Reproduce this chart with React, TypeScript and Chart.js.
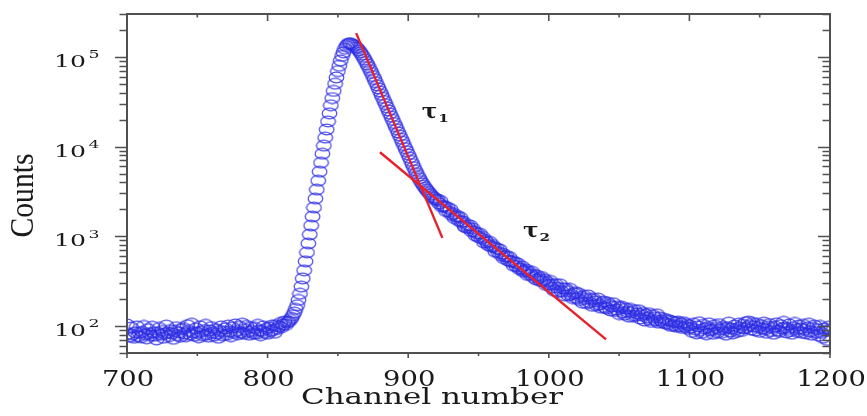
import { useEffect, useRef } from "react";
import { Chart, registerables } from "chart.js";

Chart.register(...registerables);

// ---- axis ranges / ticks ----
const X_MIN = 700;
const X_MAX = 1200;
const Y_MIN = 50;
const Y_MAX = 300000;
const xTickValues = [700, 750, 800, 850, 900, 950, 1000, 1050, 1100, 1150, 1200];
const xTickLabels = ["700", "800", "900", "1000", "1100", "1200"];
const yDecades = [100, 1000, 10000, 100000];
const yDecadeExponents = ["2", "3", "4", "5"];
const xTitle = "Channel number";
const yTitle = "Counts";

// ---- measured counts, one value per channel ----
const baselineStart = 700; // channels 700-814
const baselineCounts = [
  104, 82, 76, 96, 80, 74, 85, 99, 77, 84,
  75, 86, 100, 81, 73, 92, 83, 78, 98, 85,
  78, 71, 84, 95, 80, 88, 74, 82, 101, 84,
  77, 90, 83, 72, 88, 97, 79, 85, 76, 92,
  95, 83, 77, 102, 88, 80, 106, 85, 78, 94,
  84, 75, 99, 86, 79, 90, 103, 81, 76, 89,
  97, 84, 78, 92, 83, 74, 88, 99, 79, 86,
  94, 80, 101, 87, 77, 96, 84, 104, 88, 81,
  98, 85, 106, 82, 92, 100, 86, 80, 97, 88,
  83, 95, 82, 103, 89, 79, 88, 99, 84, 93,
  82, 96, 88, 101, 90, 84, 102, 93, 99, 108,
  97, 104, 112, 103, 110,
];
const riseStart = 815; // channels 815-860
const riseCounts = [
  112, 117, 123, 132, 141, 155, 170, 195, 229, 275,
  339, 417, 525, 661, 832, 1047, 1318, 1660, 2089, 2630,
  3311, 4169, 5248, 6607, 8318, 10233, 12589, 15488, 19055, 23442,
  28840, 34674, 41687, 50119, 58884, 69183, 79433, 91201, 102329, 112202,
  123027, 131826, 138038, 141254, 141254, 138038,
];
const decayStart = 861; // channels 861-1000
const decayCounts = [
  134896, 131826, 127350, 123027, 117490, 112202, 105925, 100000, 93756, 87902,
  82035, 76560, 71121, 66069, 61094, 56494, 52119, 48084, 44361, 40926,
  37757, 34834, 32137, 29648, 27353, 25235, 23281, 21478, 19815, 18281,
  16866, 15560, 14355, 13243, 12218, 11272, 10399, 9594, 8851, 8166,
  7516, 6918, 6383, 5888, 5445, 5047, 4699, 4385, 4111, 3873,
  3664, 3483, 3319, 3170, 3034, 2911, 2799, 2698, 2606, 2523,
  2564, 2322, 2473, 2138, 2173, 2158, 1909, 2079, 1884, 2006,
  1734, 1803, 1595, 1660, 1687, 1493, 1626, 1438, 1462, 1294,
  1256, 1336, 1239, 1319, 1140, 1213, 1125, 1018, 1083, 982,
  1070, 946, 984, 851, 905, 859, 796, 867, 767, 798,
  758, 673, 734, 666, 712, 617, 642, 570, 594, 605,
  537, 586, 520, 530, 470, 513, 465, 496, 431, 439,
  461, 403, 414, 425, 371, 399, 373, 402, 351, 369,
  330, 363, 340, 318, 351, 314, 329, 287, 309, 289,
];
const tailStart = 1001; // channels 1001-1200
const tailCounts = [
  318, 267, 288, 247, 292, 268, 240, 291, 244, 263,
  220, 261, 245, 220, 260, 223, 205, 231, 238, 204,
  232, 195, 211, 182, 216, 200, 180, 219, 184, 200,
  168, 200, 188, 170, 202, 174, 160, 182, 188, 162,
  157, 182, 172, 149, 165, 179, 147, 153, 166, 136,
  159, 164, 142, 134, 156, 144, 127, 155, 143, 129,
  150, 130, 138, 150, 121, 132, 140, 115, 134, 124,
  139, 117, 111, 132, 125, 116, 135, 109, 124, 115,
  110, 120, 107, 117, 105, 115, 100, 112, 102, 110,
  98, 112, 100, 107, 95, 110, 98, 105, 93, 102,
  96, 86, 106, 92, 83, 99, 110, 90, 84, 103,
  94, 81, 97, 107, 89, 92, 82, 102, 95, 85,
  105, 91, 84, 98, 93, 80, 96, 109, 87, 94,
  83, 101, 92, 86, 106, 96, 88, 103, 94, 110,
  97, 112, 102, 91, 108, 99, 89, 106, 97, 86,
  102, 94, 109, 92, 84, 98, 105, 88, 95, 82,
  99, 107, 89, 86, 102, 94, 111, 96, 85, 93,
  104, 88, 82, 97, 108, 92, 86, 101, 94, 84,
  103, 91, 83, 96, 106, 87, 80, 95, 101, 85,
  92, 78, 100, 84, 74, 94, 88, 70, 98, 90,
];

// ---- fitted decay lines (channel, counts) ----
const tau1LineChannels = [863, 924.3];
const tau1LineCounts = [183700, 960];
const tau2LineChannels = [879.9, 1040.7];
const tau2LineCounts = [8630, 71];

// ---- annotations (channel, counts of text baseline) ----
const tauLabels = [
  { main: "τ", sub: "1", channel: 909.6, counts: 20650 },
  { main: "τ", sub: "2", channel: 981.6, counts: 975 },
];

const segments = [
  { start: baselineStart, counts: baselineCounts },
  { start: riseStart, counts: riseCounts },
  { start: decayStart, counts: decayCounts },
  { start: tailStart, counts: tailCounts },
];

function drawText(
  ctx: CanvasRenderingContext2D,
  text: string,
  x: number,
  y: number,
  font: string,
  align: CanvasTextAlign,
  opts: { sx?: number; sy?: number; fitWidth?: number; rot?: number } = {}
) {
  ctx.save();
  ctx.font = font;
  let sx = opts.sx ?? 1;
  if (opts.fitWidth) sx = opts.fitWidth / ctx.measureText(text).width;
  ctx.translate(x, y);
  if (opts.rot) ctx.rotate(opts.rot);
  ctx.scale(sx, opts.sy ?? 1);
  ctx.textAlign = align;
  ctx.textBaseline = "alphabetic";
  ctx.fillStyle = "#1a1a1a";
  ctx.fillText(text, 0, 0);
  ctx.restore();
}

const axesPlugin = {
  id: "customAxes",
  afterDatasetsDraw(chart: any) {
    const { ctx, chartArea: a } = chart;
    const xs = chart.scales.x;
    const ys = chart.scales.y;
    ctx.save();
    ctx.strokeStyle = "#505050";
    ctx.lineWidth = 2;
    ctx.strokeRect(a.left, a.top, a.right - a.left, a.bottom - a.top);
    ctx.beginPath();
    for (const v of xTickValues) {
      const px = xs.getPixelForValue(v);
      const major = v % 100 === 0;
      ctx.moveTo(px, a.bottom);
      ctx.lineTo(px, a.bottom + (major ? 5 : 3));
      ctx.moveTo(px, a.top);
      ctx.lineTo(px, a.top + (major ? 7 : 3.5));
    }
    for (let d = 10; d <= 100000; d *= 10) {
      for (let m = 1; m <= 9; m++) {
        const v = m * d;
        if (v < Y_MIN || v > Y_MAX) continue;
        const py = Math.round(ys.getPixelForValue(v)) + 0.5;
        const len = m === 1 ? 12 : 7.5;
        ctx.moveTo(a.left - len, py);
        ctx.lineTo(a.left, py);
        ctx.moveTo(a.right - len, py);
        ctx.lineTo(a.right, py);
      }
    }
    ctx.lineWidth = 1.6;
    ctx.stroke();
    ctx.restore();

    // x tick labels
    xTickLabels.forEach((t) => {
      const px = xs.getPixelForValue(Number(t));
      drawText(ctx, t, px + 1, a.bottom + 33, "21.5px 'DejaVu Serif'", "center", { fitWidth: t.length * 17.4 });
    });
    // y tick labels
    yDecades.forEach((v, i) => {
      const py = ys.getPixelForValue(v);
      drawText(ctx, "10", a.left - 41, py + 10, "17px 'DejaVu Serif'", "right", { fitWidth: 32 });
      drawText(ctx, yDecadeExponents[i], a.left - 38.5, py + 1.5, "11px 'DejaVu Serif'", "left", { fitWidth: 11 });
    });
    // axis titles
    drawText(ctx, xTitle, 432, a.bottom + 51, "22.5px 'DejaVu Serif'", "center", { fitWidth: 262 });
    drawText(ctx, yTitle, 33, (a.top + a.bottom) / 2 + 12, "30px 'Liberation Serif'", "center", {
      fitWidth: 84,
      sy: 1.15,
      rot: -Math.PI / 2,
    });
    // tau annotations
    tauLabels.forEach((l) => {
      const px = xs.getPixelForValue(l.channel);
      const py = ys.getPixelForValue(l.counts);
      drawText(ctx, l.main, px, py, "bold 21px 'DejaVu Serif'", "left", { fitWidth: 15.5 });
      drawText(ctx, l.sub, px + 16.5, py + 3.5, "bold 10.5px 'DejaVu Serif'", "left", { fitWidth: 10.5 });
    });
  },
};

export default function App() {
  const canvasRef = useRef<HTMLCanvasElement | null>(null);

  useEffect(() => {
    document.body.style.margin = "0";
    const canvas = canvasRef.current;
    if (!canvas) return;

    const ring = document.createElement("canvas");
    ring.width = 17;
    ring.height = 13;
    const rctx = ring.getContext("2d")!;
    rctx.strokeStyle = "rgba(45,45,228,0.85)";
    rctx.lineWidth = 1.25;
    rctx.beginPath();
    rctx.ellipse(8.5, 6.5, 7.3, 5.3, 0, 0, Math.PI * 2);
    rctx.stroke();

    const points = segments.flatMap((s) => s.counts.map((c, i) => ({ x: s.start + i, y: c })));
    const line1 = tau1LineChannels.map((x, i) => ({ x, y: tau1LineCounts[i] }));
    const line2 = tau2LineChannels.map((x, i) => ({ x, y: tau2LineCounts[i] }));

    const chart = new Chart(canvas, {
      type: "scatter",
      data: {
        datasets: [
          { data: line1, showLine: true, borderColor: "#e8202a", borderWidth: 2.4, pointRadius: 0 },
          { data: line2, showLine: true, borderColor: "#e8202a", borderWidth: 2.4, pointRadius: 0 },
          { data: points, showLine: false, pointStyle: ring as any, pointRadius: 7 },
        ],
      },
      options: {
        animation: false,
        responsive: false,
        devicePixelRatio: 1,
        layout: { padding: { left: 127, top: 14, right: 37, bottom: 63 } },
        plugins: { legend: { display: false }, tooltip: { enabled: false } },
        scales: {
          x: { type: "linear", min: X_MIN, max: X_MAX, display: false },
          y: { type: "logarithmic", min: Y_MIN, max: Y_MAX, display: false },
        },
      },
      plugins: [axesPlugin],
    });
    return () => chart.destroy();
  }, []);

  return (
    <div style={{ width: 867, height: 416 }}>
      <canvas ref={canvasRef} width={867} height={416} style={{ display: "block" }} />
    </div>
  );
}
